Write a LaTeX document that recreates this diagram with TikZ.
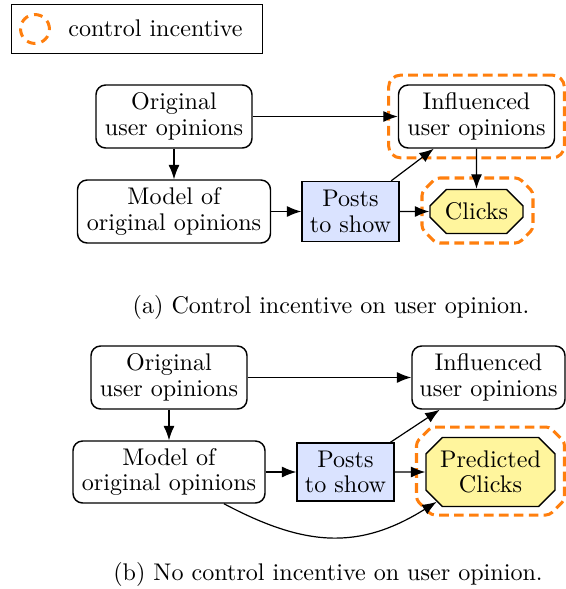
\documentclass[tikz,border=0pt]{standalone}
\usetikzlibrary{arrows.meta,shapes.misc,fit}
\definecolor{ctrl}{RGB}{255,127,14}
\definecolor{postblue}{RGB}{218,227,255}
\definecolor{clickyellow}{RGB}{255,245,157}
\begin{document}
\begin{tikzpicture}[x=0.415pt,y=-0.415pt,
  every node/.style={font=\fontsize{10}{10.6}\selectfont},
  box/.style={draw, semithick, rounded corners=4pt, align=center, inner sep=0pt},
  postbox/.style={draw, semithick, fill=postblue, align=center, inner sep=0pt},
  clickbox/.style={draw, semithick, fill=clickyellow, chamfered rectangle, chamfered rectangle xsep=3.4pt, chamfered rectangle ysep=3.4pt, align=center, inner sep=0pt},
  ctrlline/.style={draw=ctrl, line width=1.25pt, dash pattern=on 4pt off 2.2pt},
  arr/.style={-{Latex[length=6pt,width=4.6pt]}, line width=0.5pt}
]
\useasboundingbox (0,0) rectangle (566,589);

% legend
\node[draw, thin, minimum width=251*0.415pt, minimum height=49*0.415pt, inner sep=0pt] (legbox) at (136.5,28.5) {};
\node[circle, draw=ctrl, line width=1.25pt, dash pattern=on 3.6pt off 2.6pt, minimum size=12pt, inner sep=0pt] (legcirc) at (35,29) {};
\node[anchor=base west, inner sep=0pt] (legtxt) at (68,36) {control incentive};

% (a)
\node[box, minimum width=156*0.415pt, minimum height=63*0.415pt] (o1) at (174,116.5) {Original\\user opinions};
\node[box, minimum width=156*0.415pt, minimum height=63*0.415pt] (i1) at (476.5,116.5) {Influenced\\user opinions};
\node[box, minimum width=193*0.415pt, minimum height=63*0.415pt] (m1) at (174,211.5) {Model of\\original opinions};
\node[postbox, minimum width=97*0.415pt, minimum height=60*0.415pt] (p1) at (350.5,211.5) {Posts\\to show};
\node[clickbox, minimum width=93*0.415pt, minimum height=44*0.415pt] (c1) at (476.5,211.5) {Clicks};

\node[ctrlline, rounded corners=5pt, fit=(i1), inner sep=3.8pt] (i1c) {};
\coordinate (c1o) at (477.5,210.5);
\draw[ctrlline, rounded corners=1.5pt]
  ([shift={(-41.5,-32.5)}]c1o) -- ([shift={(41.5,-32.5)}]c1o) -- ([shift={(55.5,-18.5)}]c1o)
  -- ([shift={(55.5,18.5)}]c1o) -- ([shift={(41.5,32.5)}]c1o) -- ([shift={(-41.5,32.5)}]c1o)
  -- ([shift={(-55.5,18.5)}]c1o) -- ([shift={(-55.5,-18.5)}]c1o) -- cycle;

\draw[arr] (o1) -- (i1);
\draw[arr] (o1) -- (m1);
\draw[arr] (m1) -- (p1);
\draw[arr] (p1) -- (c1);
\draw[arr] (p1) -- (i1);
\draw[arr] (i1) -- (c1);

\node[anchor=base, inner sep=0pt] (capa) at (331,313) {(a) Control incentive on user opinion.};

% (b)
\node[box, minimum width=156*0.415pt, minimum height=63*0.415pt] (o2) at (169,377.5) {Original\\user opinions};
\node[box, minimum width=153*0.415pt, minimum height=63*0.415pt] (i2) at (488.5,377.5) {Influenced\\user opinions};
\node[box, minimum width=192*0.415pt, minimum height=62*0.415pt] (m2) at (169,472) {Model of\\original opinions};
\node[postbox, minimum width=97*0.415pt, minimum height=58*0.415pt] (p2) at (345.5,472) {Posts\\to show};
\node[clickbox, minimum width=129*0.415pt, minimum height=69*0.415pt] (c2) at (490.5,472) {Predicted\\Clicks};

\coordinate (c2o) at (490.5,471);
\draw[ctrlline, rounded corners=1.5pt]
  ([shift={(-59,-44)}]c2o) -- ([shift={(59,-44)}]c2o) -- ([shift={(74,-29)}]c2o)
  -- ([shift={(74,29)}]c2o) -- ([shift={(59,44)}]c2o) -- ([shift={(-59,44)}]c2o)
  -- ([shift={(-74,29)}]c2o) -- ([shift={(-74,-29)}]c2o) -- cycle;

\draw[arr] (o2) -- (i2);
\draw[arr] (o2) -- (m2);
\draw[arr] (m2) -- (p2);
\draw[arr] (p2) -- (c2);
\draw[arr] (p2) -- (i2);
\draw[arr] (m2.-30) to[out=-28,in=-148,looseness=1.1] (c2.209);

\node[anchor=base, inner sep=0pt] (capb) at (328,580) {(b) No control incentive on user opinion.};
\end{tikzpicture}
\end{document}
